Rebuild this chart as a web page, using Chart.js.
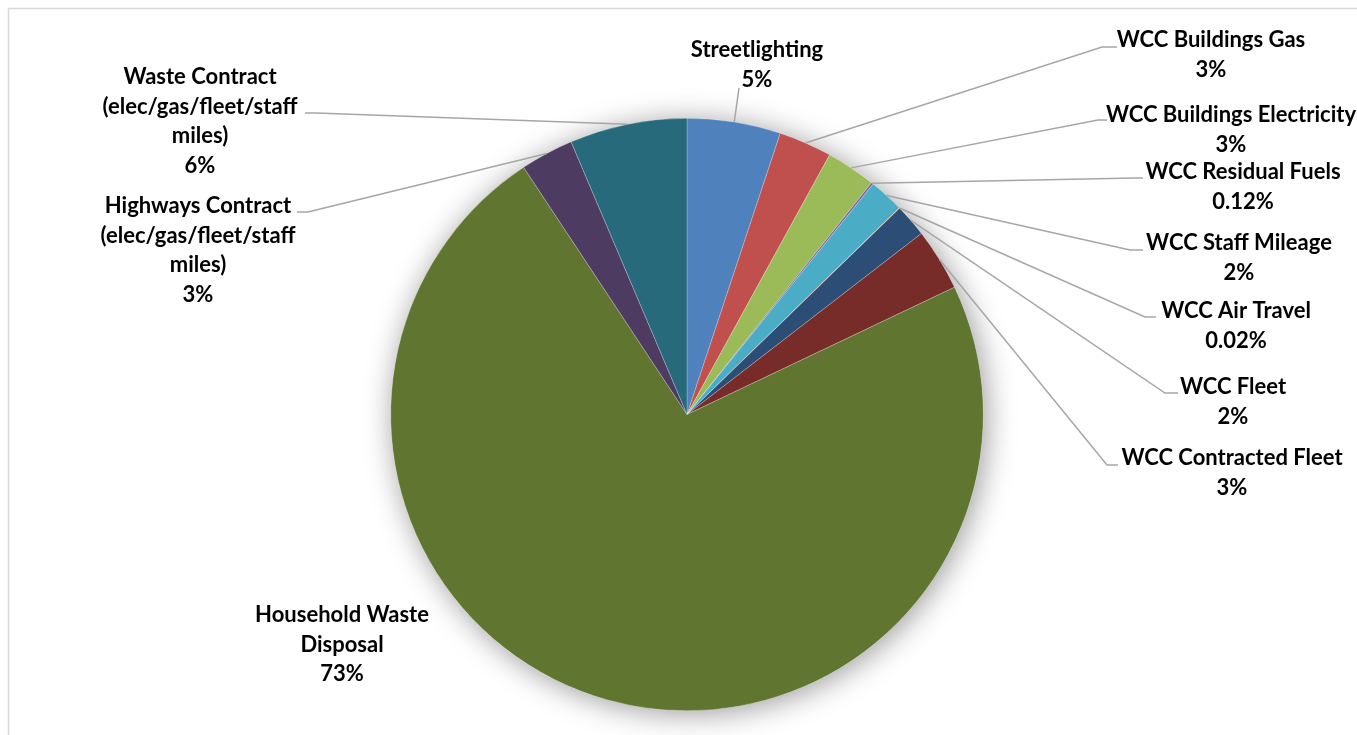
<!DOCTYPE html>
<html>
<head>
<meta charset="utf-8">
<title>Carbon emissions by source</title>
<script src="https://cdn.jsdelivr.net/npm/chart.js@4.4.1/dist/chart.umd.min.js"></script>
<style>
  html, body { margin: 0; padding: 0; background: #fff; }
  #wrap { width: 1357px; height: 735px; position: relative; }
</style>
</head>
<body>
<div id="wrap"><canvas id="pie"></canvas></div>
<script>
const categories = [
  "Streetlighting",
  "WCC Buildings Gas",
  "WCC Buildings Electricity",
  "WCC Residual Fuels",
  "WCC Staff Mileage",
  "WCC Air Travel",
  "WCC Fleet",
  "WCC Contracted Fleet",
  "Household Waste Disposal",
  "Highways Contract (elec/gas/fleet/staff miles)",
  "Waste Contract (elec/gas/fleet/staff miles)"
];
// share of emissions, percent
const shares = [5.1, 2.9, 2.7, 0.12, 1.9, 0.02, 1.8, 3.4, 72.8, 2.9, 6.4];

const colors = [
  "#4F81BD", "#C0504D", "#9BBB59", "#8064A2", "#4BACC6", "#F79646",
  "#2C4D75", "#772C2A", "#5F7530", "#4D3B62", "#276A7C"
];

// label text broken into lines the way the picture wraps them
const labelLines = [
  ["Streetlighting"],
  ["WCC Buildings Gas"],
  ["WCC Buildings Electricity"],
  ["WCC Residual Fuels"],
  ["WCC Staff Mileage"],
  ["WCC Air Travel"],
  ["WCC Fleet"],
  ["WCC Contracted Fleet"],
  ["Household Waste", "Disposal"],
  ["Highways Contract", "(elec/gas/fleet/staff", "miles)"],
  ["Waste Contract", "(elec/gas/fleet/staff", "miles)"]
];

// label placement: text centre x, first line y, leader elbow and end
const labelPos = [
  { x: 757, y: 50, elbow: [739, 88], end: [739, 88] },
  { x: 1211, y: 40, elbow: [1102, 47], end: [1117, 47] },
  { x: 1231, y: 115, elbow: [1098, 120], end: [1107, 120] },
  { x: 1243, y: 172, elbow: [1135, 178], end: [1143, 178] },
  { x: 1239, y: 243, elbow: [1130, 250], end: [1143, 250] },
  { x: 1236, y: 311, elbow: [1145, 317], end: [1156, 317] },
  { x: 1233, y: 387, elbow: [1165, 393], end: [1178, 393] },
  { x: 1232, y: 458, elbow: [1107, 465], end: [1118, 465] },
  { x: 342, y: 615, elbow: null, end: null },
  { x: 198, y: 206, elbow: [308, 212], end: [297, 212] },
  { x: 200, y: 77, elbow: [316, 113], end: [305, 113] }
];

const total = shares.reduce((a, b) => a + b, 0);
function pctText(v) {
  const p = v / total * 100;
  return p < 1 ? p.toFixed(2) + "%" : Math.round(p) + "%";
}

const framePlugin = {
  id: "frame",
  beforeDraw(chart) {
    const ctx = chart.ctx;
    ctx.save();
    ctx.strokeStyle = "#D9D9D9";
    ctx.lineWidth = 1.5;
    ctx.beginPath();
    ctx.moveTo(8.5, chart.height);
    ctx.lineTo(8.5, 8.5);
    ctx.lineTo(chart.width, 8.5);
    ctx.stroke();
    ctx.restore();
  }
};

const shadowPlugin = {
  id: "pieShadow",
  beforeDatasetsDraw(chart) {
    const arc = chart.getDatasetMeta(0).data[0];
    if (!arc) return;
    const ctx = chart.ctx;
    ctx.save();
    ctx.shadowColor = "rgba(0,0,0,0.4)";
    ctx.shadowBlur = 30;
    ctx.shadowOffsetX = 3;
    ctx.shadowOffsetY = 3;
    ctx.fillStyle = "#fff";
    ctx.beginPath();
    ctx.arc(arc.x, arc.y, arc.outerRadius, 0, Math.PI * 2);
    ctx.fill();
    ctx.restore();
  }
};

const labelPlugin = {
  id: "pieLabels",
  afterDatasetsDraw(chart) {
    const ctx = chart.ctx;
    const arcs = chart.getDatasetMeta(0).data;
    ctx.save();
    // leader lines
    ctx.strokeStyle = "#A6A6A6";
    ctx.lineWidth = 1.5;
    arcs.forEach((arc, i) => {
      const pos = labelPos[i];
      if (!pos.elbow) return;
      const mid = (arc.startAngle + arc.endAngle) / 2;
      const sx = arc.x + Math.cos(mid) * arc.outerRadius;
      const sy = arc.y + Math.sin(mid) * arc.outerRadius;
      ctx.beginPath();
      ctx.moveTo(sx, sy);
      ctx.lineTo(pos.elbow[0], pos.elbow[1]);
      ctx.lineTo(pos.end[0], pos.end[1]);
      ctx.stroke();
    });
    // texts
    ctx.fillStyle = "#000";
    ctx.font = "bold 22px Lato, 'Open Sans', sans-serif";
    ctx.textAlign = "center";
    ctx.textBaseline = "middle";
    arcs.forEach((arc, i) => {
      const pos = labelPos[i];
      const lines = labelLines[i].concat([pctText(shares[i])]);
      lines.forEach((t, k) => {
        ctx.fillText(t, pos.x, pos.y + k * 29.5);
      });
    });
    ctx.restore();
  }
};

new Chart(document.getElementById("pie"), {
  type: "pie",
  data: {
    labels: categories,
    datasets: [
      {
        data: shares,
        backgroundColor: colors,
        borderColor: "rgba(255,255,255,0.45)",
        borderWidth: 0.5,
      },
    ],
  },
  options: {
    responsive: true,
    maintainAspectRatio: false,
    animation: false,
    layout: {
      padding: { top: 118, bottom: 24, left: 100, right: 83 },
    },
    plugins: {
      legend: { display: false },
      tooltip: { enabled: false },
    },
  },
  plugins: [framePlugin, shadowPlugin, labelPlugin],
});
</script>
</body>
</html>
